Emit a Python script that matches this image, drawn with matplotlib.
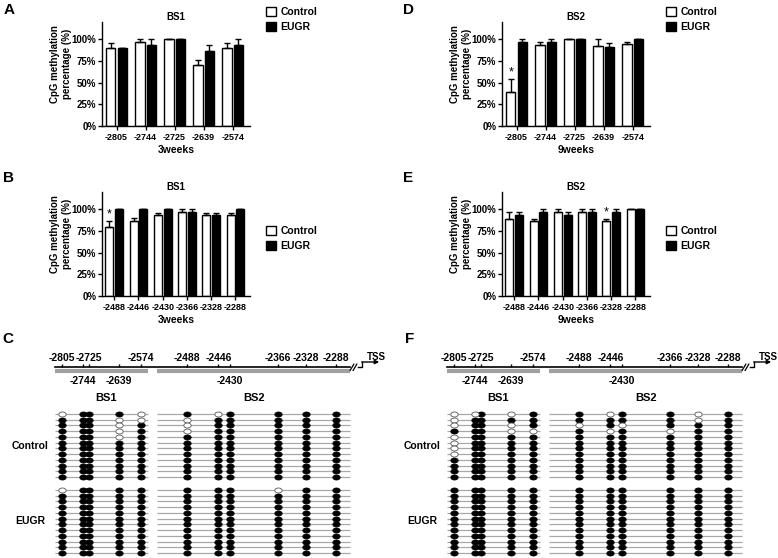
import numpy as np
import matplotlib
matplotlib.use('Agg')
import matplotlib.pyplot as plt
from matplotlib.patches import Patch
from matplotlib.path import Path
from matplotlib.ticker import FuncFormatter
import matplotlib.transforms as mtransforms

plt.rcParams['font.family'] = ['Liberation Sans', 'DejaVu Sans']
plt.rcParams['font.weight'] = 'bold'
plt.rcParams['axes.labelweight'] = 'bold'
plt.rcParams['axes.titleweight'] = 'bold'

W, H = 778, 558

# CpG sites of the two bisulfite amplicons
bs1_sites = [-2805, -2744, -2725, -2639, -2574]
bs2_sites = [-2488, -2446, -2430, -2366, -2328, -2288]
bs1_ticklabels = ['-2805', '-2744', '-2725', '-2639', '-2574']
bs2_ticklabels = ['-2488', '-2446', '-2430', '-2366', '-2328', '-2288']
below_sites = [-2744, -2639, -2430]
bs1_extent = (-2825, -2553)
bs2_extent = (-2528, -2269)

# A: 3 weeks, BS1
a_ctrl = [90, 97, 100, 70, 90]
a_ctrl_err = [6, 3, 0, 6, 6]
a_eugr = [90, 93, 100, 87, 93]
a_eugr_err = [0, 7, 0, 7, 7]
a_star = [False, False, False, False, False]

# D: 9 weeks, BS1 sites
d_ctrl = [39, 94, 100, 92, 95]
d_ctrl_err = [15, 3, 0, 8, 2]
d_eugr = [97, 97, 100, 91, 100]
d_eugr_err = [3, 3, 0, 5, 0]
d_star = [True, False, False, False, False]

# B: 3 weeks, BS2 sites
b_ctrl = [80, 87, 93, 97, 93, 93]
b_ctrl_err = [6, 3, 3, 3, 3, 3]
b_eugr = [100, 100, 100, 97, 93, 100]
b_eugr_err = [0, 0, 0, 3, 3, 0]
b_star = [True, False, False, False, False, False]

# E: 9 weeks, BS2 sites
e_ctrl = [89, 86, 97, 97, 86, 100]
e_ctrl_err = [8, 3, 3, 3, 3, 0]
e_eugr = [94, 97, 94, 97, 97, 100]
e_eugr_err = [3, 3, 3, 3, 3, 0]
e_star = [False, False, False, False, True, False]

# clone methylation, 5 BS1 sites | 6 BS2 sites, 1 = methylated
c_control = ['01110 101111', '11100 011111', '11101 011111', '11101 011111',
             '11101 111111', '11111 111111', '11111 111111', '11111 111111',
             '11111 111111', '11111 111111', '11111 111111', '11111 111111']
c_eugr = ['01111 111011'] + ['11111 111111'] * 11
f_control = ['00101 101101', '01111 111101', '01101 010111', '11100 101011',
             '01111 111111', '01111 111111', '01111 111111', '01111 111111',
             '11111 111111', '11111 111111', '11111 111111', '11111 111111']
f_eugr = ['11111 111111'] * 12

fig = plt.figure(figsize=(W / 100, H / 100), dpi=100)


def add_ax(left, top, right, bottom):
    return fig.add_axes([left / W, 1 - bottom / H, (right - left) / W, (bottom - top) / H])


def bar_panel(ax, labels, ctrl, ctrl_err, eugr, eugr_err, star, title, xlabel, leg_xy):
    x = np.arange(len(labels))
    ax.bar(x - 0.2, ctrl, 0.33, color='white', edgecolor='black', linewidth=1)
    ax.bar(x + 0.2, eugr, 0.33, color='black', edgecolor='black', linewidth=1)
    ax.errorbar(x - 0.2, ctrl, yerr=[np.zeros(len(x)), ctrl_err], fmt='none',
                ecolor='black', elinewidth=1, capsize=2, capthick=1)
    ax.errorbar(x + 0.2, eugr, yerr=[np.zeros(len(x)), eugr_err], fmt='none',
                ecolor='black', elinewidth=1, capsize=2, capthick=1)
    for i, s in enumerate(star):
        if s:
            ax.text(i - 0.2, ctrl[i] + ctrl_err[i] + 1, '*', ha='center', va='bottom',
                    fontsize=9, fontweight='normal')
    ax.set_xlim(-0.5, len(labels) - 0.4)
    ax.set_ylim(0, 120)
    ax.set_yticks([0, 25, 50, 75, 100])
    ax.yaxis.set_major_formatter(FuncFormatter(lambda v, p: f'{v:.0f}%'))
    ax.set_xticks(x)
    ax.set_xticklabels(labels, fontsize=6.5)
    ax.tick_params(axis='y', labelsize=7, length=3, width=1, pad=1)
    ax.tick_params(axis='x', length=3, width=1, pad=2)
    for side in ['top', 'right']:
        ax.spines[side].set_visible(False)
    for side in ['left', 'bottom']:
        ax.spines[side].set_linewidth(1)
    ax.set_title(title, fontsize=7, pad=1)
    ax.set_ylabel('CpG methylation\npercentage (%)', fontsize=7, linespacing=1.3)
    ax.yaxis.set_label_coords(-0.2, 0.6)
    ax.set_xlabel(xlabel, fontsize=7.5)
    ax.xaxis.set_label_coords(0.5, -0.18)
    handles = [Patch(facecolor='white', edgecolor='black', linewidth=1),
               Patch(facecolor='black', edgecolor='black', linewidth=1)]
    ax.legend(handles, ['Control', 'EUGR'], loc='upper left',
              bbox_to_anchor=(leg_xy[0] / W, 1 - leg_xy[1] / H),
              bbox_transform=fig.transFigure, frameon=False, fontsize=7.5,
              handlelength=1.0, handleheight=1.0, handletextpad=0.4,
              labelspacing=0.45, borderpad=0, borderaxespad=0)


axA = add_ax(102, 22, 250, 126)
bar_panel(axA, bs1_ticklabels, a_ctrl, a_ctrl_err, a_eugr, a_eugr_err, a_star,
          'BS1', '3weeks', (266, 7))
axD = add_ax(502, 22, 650, 126)
bar_panel(axD, bs1_ticklabels, d_ctrl, d_ctrl_err, d_eugr, d_eugr_err, d_star,
          'BS2', '9weeks', (666, 7))
axB = add_ax(102, 192, 250, 296)
bar_panel(axB, bs2_ticklabels, b_ctrl, b_ctrl_err, b_eugr, b_eugr_err, b_star,
          'BS1', '3weeks', (266, 226))
axE = add_ax(502, 192, 650, 296)
bar_panel(axE, bs2_ticklabels, e_ctrl, e_ctrl_err, e_eugr, e_eugr_err, e_star,
          'BS2', '9weeks', (666, 226))

# schematic scale: each amplicon drawn linearly, with a small gap between them
KB = [-3000, -2553, -2528, -2200]
KP = [-4.6, 147.9, 157.3, 401.5]


def fwd(v):
    return np.interp(v, KB, KP)


def inv(v):
    return np.interp(v, KP, KB)


ROW0_PX, ROW_PX = 414, 5.73
EUGR_OFFSET = 13.26
ell = Path(Path.unit_circle().vertices * [1, 0.68], Path.unit_circle().codes)


def row(py):
    return (py - ROW0_PX) / ROW_PX


def clone_panel(left, right, control, eugr):
    ax = add_ax(left, 330, right, 558)
    ax.set_xscale('function', functions=(fwd, inv))
    ax.set_xlim(inv(0), inv(right - left))
    ax.set_ylim(row(558), row(330))
    ax.axis('off')
    sites = np.array(bs1_sites + bs2_sites)
    y_line = row(367.3)
    # backbone, amplicons, sites
    ax.plot([bs1_extent[0], bs2_extent[1]], [y_line, y_line], color='black', lw=1.2)
    for ext in (bs1_extent, bs2_extent):
        ax.plot(ext, [row(371.3)] * 2, color='#a0a0a0', lw=3, solid_capstyle='butt')
    ax.vlines(sites, row(364.3), y_line, color='black', lw=1)
    for s, lab in zip(sites, bs1_ticklabels + bs2_ticklabels):
        yy = row(381) if s in below_sites else row(358)
        ax.text(s, yy, lab, ha='center', va='center', fontsize=7.5)
    ax.text(np.mean(bs1_extent) + 12, row(398), 'BS1', ha='center', va='center', fontsize=8)
    ax.text(np.mean(bs2_extent), row(398), 'BS2', ha='center', va='center', fontsize=8)
    # break and TSS arrow
    for dx in (-4, 0):
        ax.plot([-2265 + dx, -2260 + dx], [y_line + 0.55, y_line - 0.55], color='black', lw=0.9)
    ax.plot([-2258, -2253, -2253], [y_line, y_line, row(362)], color='black', lw=1)
    ax.annotate('', xy=(-2230, row(362)), xytext=(-2253.5, row(362)),
                arrowprops=dict(arrowstyle='-|>', color='black', lw=1, mutation_scale=6,
                                shrinkA=0, shrinkB=0))
    ax.text(-2234, row(357.5), 'TSS', ha='center', va='center', fontsize=7)
    # clones
    trans = mtransforms.blended_transform_factory(ax.transAxes, ax.transData)
    for g, (name, clones) in enumerate([('Control', control), ('EUGR', eugr)]):
        ys = g * EUGR_OFFSET + np.arange(len(clones))
        for ext in (bs1_extent, bs2_extent):
            ax.hlines(ys, ext[0], ext[1], color='#a8a8a8', lw=0.9)
        meth = np.array([[int(c) for c in s.replace(' ', '')] for s in clones])
        xx, yy = np.meshgrid(sites, ys)
        on = meth == 1
        ax.plot(xx[on], yy[on], ls='none', marker=ell, ms=5.3, mfc='black', mec='black', mew=0.6)
        ax.plot(xx[~on], yy[~on], ls='none', marker=ell, ms=5.3, mfc='white', mec='#555555', mew=0.6)
        ax.text(0.078, ys.mean(), name, transform=trans, ha='center', va='center', fontsize=7.5)


clone_panel(0, 390, c_control, c_eugr)
clone_panel(392, 778, f_control, f_eugr)

for lab, px, py in [('A', 9, 10), ('D', 408, 10), ('B', 9, 178), ('E', 408, 178),
                    ('C', 8, 339), ('F', 410, 339)]:
    fig.text(px / W, 1 - py / H, lab, ha='center', va='center', fontsize=11, fontweight='bold')

fig.savefig('out.png', dpi=100)
